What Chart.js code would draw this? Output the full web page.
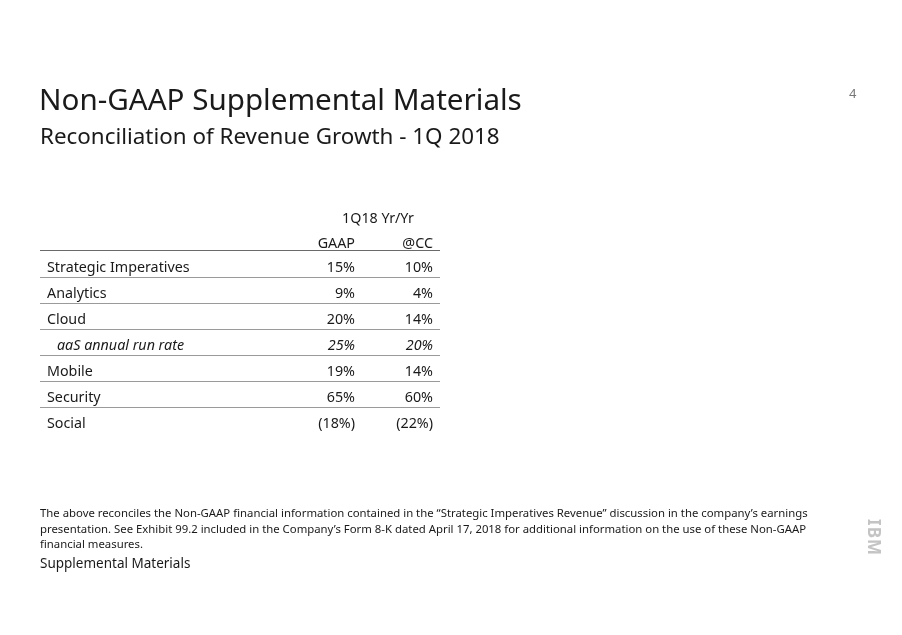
<!DOCTYPE html>
<html>
<head>
<meta charset="utf-8">
<script src="https://cdn.jsdelivr.net/npm/chart.js@4/dist/chart.umd.min.js"></script>
<style>
  html, body { margin: 0; padding: 0; background: #fff; }
  body { width: 902px; height: 635px; position: relative; overflow: hidden; font-family: "Noto Sans", sans-serif; color: #1a1a1a; }
  #c { position: absolute; left: 0; top: 0; }
  .t { position: absolute; white-space: nowrap; }
  #title { left: 39px; top: 78px; font-size: 29.6px; }
  #subtitle { left: 40px; top: 120px; font-size: 22.4px; }
  #page { left: 849px; top: 84px; font-size: 13px; color: #777; }
  #note { left: 40px; top: 505px; font-size: 11.35px; line-height: 15.5px; }
  #supp { left: 40px; top: 554px; font-size: 13.5px; }
  #logo { left: 856px; top: 526px; font-size: 17px; font-weight: bold; color: #c4c4c4; transform: rotate(90deg); letter-spacing: 1px; }
</style>
</head>
<body>
<canvas id="c" width="902" height="635"></canvas>
<div class="t" id="title">Non-GAAP Supplemental Materials</div>
<div class="t" id="subtitle">Reconciliation of Revenue Growth - 1Q 2018</div>
<div class="t" id="page">4</div>
<div class="t" id="note">The above reconciles the Non-GAAP financial information contained in the “Strategic Imperatives Revenue” discussion in the company’s earnings<br>presentation. See Exhibit 99.2 included in the Company’s Form 8-K dated April 17, 2018 for additional information on the use of these Non-GAAP<br>financial measures.</div>
<div class="t" id="supp">Supplemental Materials</div>
<div class="t" id="logo">IBM</div>
<script>
const categories = ['Strategic Imperatives', 'Analytics', 'Cloud', 'aaS annual run rate', 'Mobile', 'Security', 'Social'];
const gaapValues = [15, 9, 20, 25, 19, 65, -18];
const ccValues = [10, 4, 14, 20, 14, 60, -22];
const columnLabels = ['GAAP', '@CC'];
const groupLabel = '1Q18 Yr/Yr';
const italicRows = ['aaS annual run rate'];

const FONT = '"Noto Sans", sans-serif';
const COL_RIGHT = [315, 393];   // x-scale units (right edge of each value column)
const LABEL_X = 7, INDENT_X = 17;

function fmt(v) { return v < 0 ? '(' + Math.abs(v) + '%)' : v + '%'; }

const tablePlugin = {
  id: 'tableText',
  afterDraw(chart) {
    const ctx = chart.ctx;
    const xs = chart.scales.x, ys = chart.scales.y;
    ctx.save();
    ctx.fillStyle = '#1a1a1a';
    ctx.textBaseline = 'middle';
    // header
    ctx.font = '14.3px ' + FONT;
    ctx.textAlign = 'center';
    const gx = (xs.getPixelForValue(COL_RIGHT[0] - 18) + xs.getPixelForValue(COL_RIGHT[1] - 14)) / 2;
    ctx.fillText(groupLabel, gx, ys.top - 32);
    ctx.textAlign = 'right';
    columnLabels.forEach((c, i) => ctx.fillText(c, xs.getPixelForValue(COL_RIGHT[i]), ys.top - 7));
    // rows
    chart.data.labels.forEach((lab, r) => {
      const y = ys.getPixelForValue(r) + 3.5;
      const it = italicRows.includes(lab);
      ctx.font = (it ? 'italic ' : '') + '14.3px ' + FONT;
      ctx.textAlign = 'left';
      ctx.fillText(lab, xs.getPixelForValue(it ? INDENT_X : LABEL_X), y);
      ctx.textAlign = 'right';
      chart.data.datasets.forEach((ds, i) => {
        ctx.fillText(fmt(ds.data[r]), xs.getPixelForValue(COL_RIGHT[i]), y);
      });
    });
    ctx.restore();
  }
};

new Chart(document.getElementById('c'), {
  type: 'bar',
  data: {
    labels: categories,
    datasets: [
      { label: columnLabels[0], data: gaapValues, backgroundColor: 'rgba(0,0,0,0)' },
      { label: columnLabels[1], data: ccValues, backgroundColor: 'rgba(0,0,0,0)' }
    ]
  },
  options: {
    indexAxis: 'y',
    responsive: false,
    animation: false,
    events: [],
    layout: { padding: { left: 40, right: 462, top: 251, bottom: 201 } },
    plugins: { legend: { display: false }, tooltip: { enabled: false }, title: { display: false } },
    scales: {
      x: { type: 'linear', min: 0, max: 400, display: false },
      y: {
        type: 'category',
        offset: true,
        border: { display: false },
        ticks: { display: false },
        afterFit(s) { s.width = 0; },
        grid: {
          offset: true,
          drawTicks: false,
          lineWidth: 1,
          color(ctx) {
            if (ctx.type !== 'tick') return 'rgba(0,0,0,0)';
            if (ctx.index === 0) return '#6a6a6a';
            return '#9a9a9a';
          }
        }
      }
    }
  },
  plugins: [tablePlugin]
});
</script>
</body>
</html>
